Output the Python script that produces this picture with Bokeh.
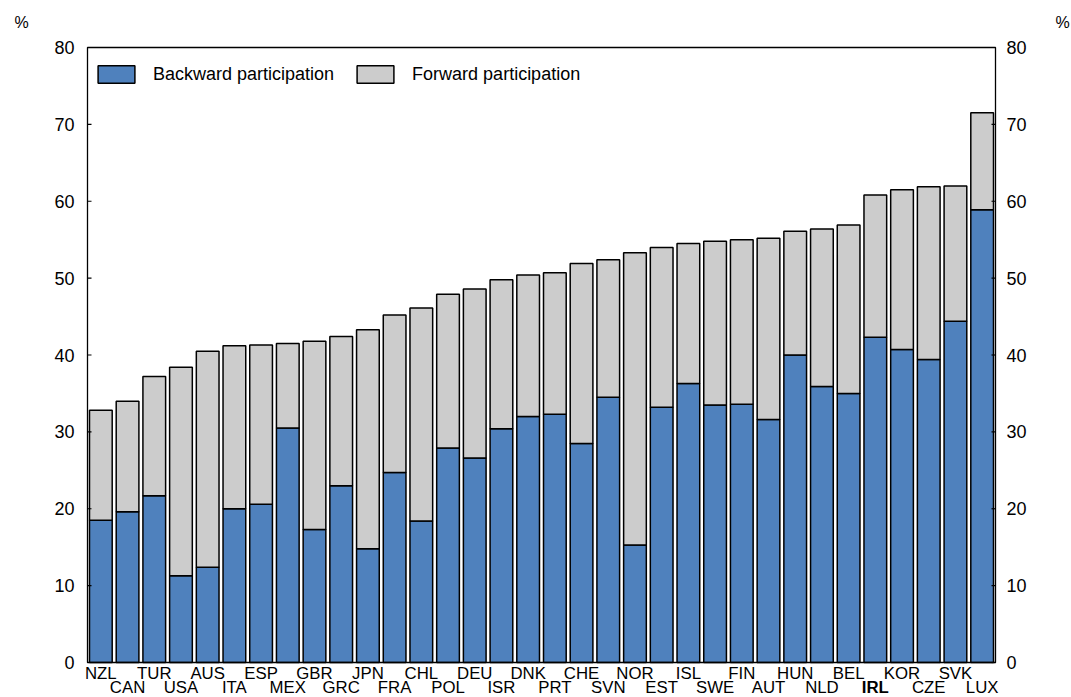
from bokeh.plotting import figure
from bokeh.models import Range1d, Legend, LegendItem, ColumnDataSource
from bokeh.core.properties import value
from bokeh.embed import file_html
from bokeh.resources import INLINE

countries = ["NZL", "CAN", "TUR", "USA", "AUS", "ITA", "ESP", "MEX", "GBR", "GRC",
             "JPN", "FRA", "CHL", "POL", "DEU", "ISR", "DNK", "PRT", "CHE", "SVN",
             "NOR", "EST", "ISL", "SWE", "FIN", "AUT", "HUN", "NLD", "BEL", "IRL",
             "KOR", "CZE", "SVK", "LUX"]
backward = [18.5, 19.6, 21.7, 11.3, 12.4, 20.0, 20.6, 30.5, 17.3, 23.0,
            14.8, 24.7, 18.4, 27.9, 26.6, 30.4, 32.0, 32.3, 28.5, 34.5,
            15.3, 33.2, 36.3, 33.5, 33.6, 31.6, 40.0, 35.9, 35.0, 42.3,
            40.7, 39.4, 44.4, 58.9]
forward = [14.3, 14.4, 15.5, 27.1, 28.1, 21.2, 20.7, 11.0, 24.5, 19.4,
           28.5, 20.5, 27.7, 20.0, 22.0, 19.4, 18.4, 18.4, 23.4, 17.9,
           38.0, 20.8, 18.2, 21.3, 21.4, 23.6, 16.1, 20.5, 21.9, 18.5,
           20.8, 22.5, 17.6, 12.6]
y_ticks = [0, 10, 20, 30, 40, 50, 60, 70, 80]
y_max = 80
highlight = "IRL"
unit = "%"

FONT = "Liberation Sans"
BLUE = "#4F81BD"
GREY = "#CCCCCC"

W, H = 1071, 697
# frame of the chart in pixels
FL, FR, FT, FB = 87, 995, 47, 662

n = len(countries)
xs = [i + 0.5 for i in range(n)]
totals = [b + f for b, f in zip(backward, forward)]
src = ColumnDataSource(dict(x=xs, b=backward, t=totals))

ppx = (FR - FL) / n
ppy = (FB - FT) / y_max

p = figure(width=W, height=H, output_backend="svg", toolbar_location=None,
           x_range=Range1d(-FL / ppx, n + (W - FR) / ppx),
           y_range=Range1d(-(H - FB) / ppy, y_max + FT / ppy),
           min_border=0, x_axis_location=None, y_axis_location=None)
p.xgrid.visible = False
p.ygrid.visible = False
p.outline_line_color = None
p.background_fill_color = "white"
p.border_fill_color = "white"

r1 = p.vbar(x="x", bottom=0, top="b", width=0.85, source=src,
            fill_color=BLUE, line_color="black", line_width=1.5)
r2 = p.vbar(x="x", bottom="b", top="t", width=0.85, source=src,
            fill_color=GREY, line_color="black", line_width=1.5)

# plot frame (axes box)
p.quad(left=[0], right=[n], bottom=[0], top=[y_max], fill_color=None,
       line_color="black", line_width=1.3)

# small inward ticks on both vertical axes
tl = 4 / ppx
p.segment(x0=[0] * len(y_ticks), x1=[tl] * len(y_ticks), y0=y_ticks, y1=y_ticks,
          line_color="black", line_width=1.2)
p.segment(x0=[n - tl] * len(y_ticks), x1=[n] * len(y_ticks), y0=y_ticks, y1=y_ticks,
          line_color="black", line_width=1.2)

# y tick labels, left and right
p.text(x=[-13 / ppx] * len(y_ticks), y=y_ticks, text=[str(t) for t in y_ticks],
       text_align="right", text_baseline="middle", text_font=value(FONT),
       text_font_size="18px", text_color="black")
p.text(x=[n + 11 / ppx] * len(y_ticks), y=y_ticks, text=[str(t) for t in y_ticks],
       text_align="left", text_baseline="middle", text_font=value(FONT),
       text_font_size="18px", text_color="black")

# unit labels
p.text(x=[-73 / ppx, n + 60 / ppx], y=[y_max + 25 / ppy] * 2, text=[unit, unit],
       text_align="left", text_baseline="middle", text_font=value(FONT),
       text_font_size="16px", text_color="black")

# x category labels, staggered on two rows
row_y = [-10.5 / ppy if i % 2 == 0 else -25 / ppy for i in range(n)]
styles = ["bold" if c == highlight else "normal" for c in countries]
lsrc = ColumnDataSource(dict(x=xs, y=row_y, t=countries, s=styles))
p.text(x="x", y="y", text="t", text_font_style="s", source=lsrc,
       text_align="center", text_baseline="middle", text_font=value(FONT),
       text_font_size="16.8px", text_color="black")

legend = Legend(items=[LegendItem(label="Backward participation", renderers=[r1]),
                       LegendItem(label="Forward participation", renderers=[r2])],
                orientation="horizontal", location=(93, H - 85),
                glyph_width=46, glyph_height=22, label_standoff=14, spacing=18,
                padding=0, margin=0, border_line_color=None, background_fill_alpha=0,
                label_text_font=FONT, label_text_font_size="18px", label_text_color="black")
p.add_layout(legend, "center")

open("out.html", "w").write(file_html(p, INLINE))
